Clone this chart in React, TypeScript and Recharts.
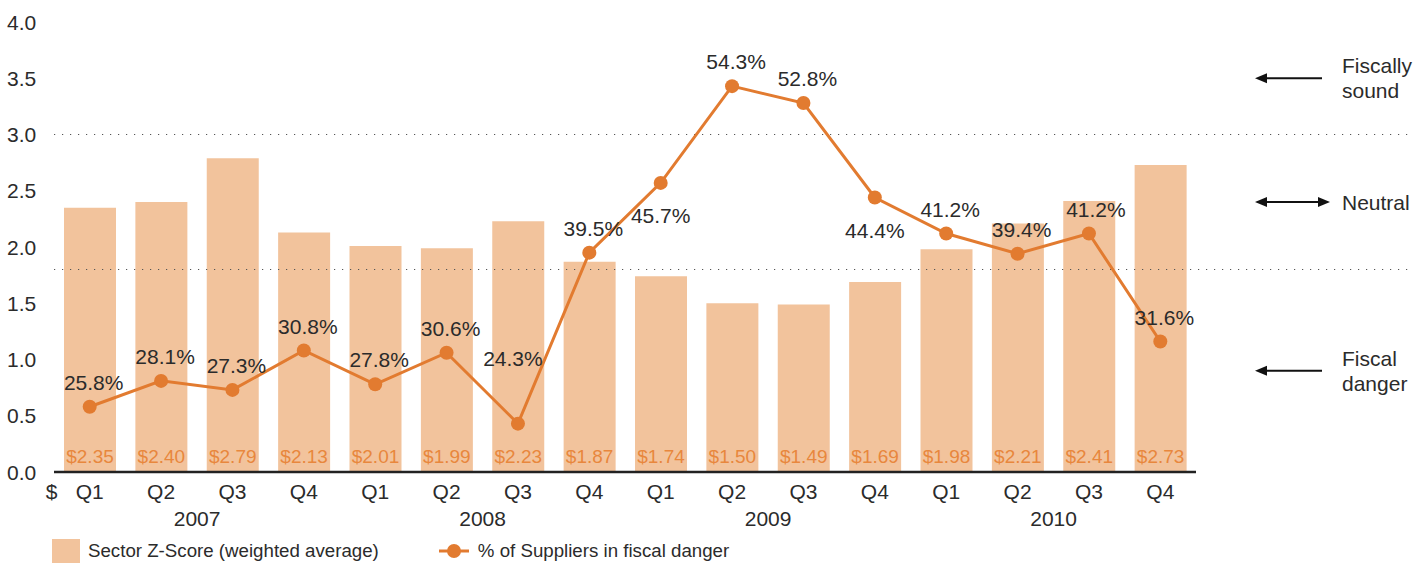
import {
  Bar,
  ComposedChart,
  LabelList,
  Line,
  ReferenceLine,
  XAxis,
  YAxis,
} from "recharts";

const quarters = ["Q1", "Q2", "Q3", "Q4", "Q1", "Q2", "Q3", "Q4", "Q1", "Q2", "Q3", "Q4", "Q1", "Q2", "Q3", "Q4"];
const years = ["2007", "2007", "2007", "2007", "2008", "2008", "2008", "2008", "2009", "2009", "2009", "2009", "2010", "2010", "2010", "2010"];
const zScores = [2.35, 2.4, 2.79, 2.13, 2.01, 1.99, 2.23, 1.87, 1.74, 1.5, 1.49, 1.69, 1.98, 2.21, 2.41, 2.73];
const pctInDanger = [25.8, 28.1, 27.3, 30.8, 27.8, 30.6, 24.3, 39.5, 45.7, 54.3, 52.8, 44.4, 41.2, 39.4, 41.2, 31.6];
const yTicks = [0, 0.5, 1, 1.5, 2, 2.5, 3, 3.5, 4];

const zoneBounds = [3.0, 1.8];
const zones = [
  { y: 3.5, lines: ["Fiscally", "sound"], both: false },
  { y: 2.4, lines: ["Neutral"], both: true },
  { y: 0.9, lines: ["Fiscal", "danger"], both: false },
];

const data = quarters.map((q, i) => ({
  key: `${years[i]} ${q}`,
  quarter: q,
  year: years[i],
  z: zScores[i],
  pct: pctInDanger[i],
}));

const FONT = '"Liberation Sans", Arial, Helvetica, sans-serif';
const TEXT = "#2b2b2b";
const BAR = "#f2c39c";
const ORANGE = "#e27b30";
const BAR_TEXT = "#e8873d";
const FS = 21;

// label placement for the % labels: [dx, dy of baseline]
const pctLabelPos: Record<number, [number, number]> = {
  6: [-5, -58],
  8: [0, 40],
  11: [0, 40],
  14: [7, -17],
};

function YTick({ y, payload }: any) {
  return (
    <text x={7} y={y} dy={7.5} fill={TEXT} fontSize={FS} fontFamily={FONT}>
      {payload.value.toFixed(1)}
    </text>
  );
}

function XTick({ x, y, index }: any) {
  const d = data[index];
  return (
    <g>
      {index === 0 && (
        <text x={x - 38} y={y + 18.5} fill={TEXT} fontSize={FS} fontFamily={FONT} textAnchor="middle">
          $
        </text>
      )}
      <text x={x} y={y + 18.5} fill={TEXT} fontSize={FS} fontFamily={FONT} textAnchor="middle">
        {d.quarter}
      </text>
      {d.quarter === "Q2" && (
        <text x={x + 36} y={y + 45.5} fill={TEXT} fontSize={FS} fontFamily={FONT} textAnchor="middle">
          {d.year}
        </text>
      )}
    </g>
  );
}

function BarValue({ x, y, width, height, value }: any) {
  return (
    <text
      x={x + width / 2}
      y={y + height - 9}
      fill={BAR_TEXT}
      fontSize={19}
      fontFamily={FONT}
      textAnchor="middle"
    >
      ${value.toFixed(2)}
    </text>
  );
}

function PctValue({ x, y, value, index }: any) {
  const [dx, dy] = pctLabelPos[index] ?? [4, -17];
  return (
    <text x={x + dx} y={y + dy} fill={TEXT} fontSize={FS} fontFamily={FONT} textAnchor="middle">
      {value.toFixed(1)}%
    </text>
  );
}

function DottedBound({ x1, y1, x2 }: any) {
  return (
    <line
      x1={x1}
      y1={y1}
      x2={x2 + 214}
      y2={y1}
      stroke="#555"
      strokeWidth={1.2}
      strokeDasharray="1.2 6.8"
    />
  );
}

function zoneShape(lines: string[], both: boolean) {
  return ({ x2, y1 }: any) => {
    const a = x2 + 59;
    const b = both ? x2 + 134 : x2 + 126;
    const tx = x2 + 146;
    const top = y1 - ((lines.length - 1) * 25) / 2;
    return (
      <g>
        <line x1={a + 8} y1={y1} x2={both ? b - 8 : b} y2={y1} stroke="#111" strokeWidth={2} />
        <polygon points={`${a},${y1} ${a + 12},${y1 - 5} ${a + 12},${y1 + 5}`} fill="#111" />
        {both && <polygon points={`${b},${y1} ${b - 12},${y1 - 5} ${b - 12},${y1 + 5}`} fill="#111" />}
        {lines.map((t, i) => (
          <text key={t} x={tx} y={top + i * 25} dy={7.5} fill={TEXT} fontSize={FS} fontFamily={FONT}>
            {t}
          </text>
        ))}
      </g>
    );
  };
}

export default function App() {
  return (
    <div style={{ position: "absolute", left: 0, top: 0, width: 1427, height: 563, background: "#fff" }}>
      <ComposedChart
        width={1427}
        height={563}
        data={data}
        margin={{ top: 22, right: 231, left: 0, bottom: 0 }}
      >
        <XAxis
          dataKey="key"
          height={91}
          tickLine={false}
          axisLine={{ stroke: "#222", strokeWidth: 2.5 }}
          tick={<XTick />}
          interval={0}
        />
        <YAxis
          yAxisId="z"
          width={54}
          domain={[0, 4]}
          ticks={yTicks}
          axisLine={false}
          tickLine={false}
          tick={<YTick />}
        />
        <YAxis yAxisId="pct" orientation="right" domain={[20, 60]} hide />
        {zoneBounds.map((v) => (
          <ReferenceLine key={v} yAxisId="z" y={v} shape={<DottedBound />} />
        ))}
        {zones.map((z) => (
          <ReferenceLine key={z.y} yAxisId="z" y={z.y} shape={zoneShape(z.lines, z.both)} />
        ))}
        <Bar yAxisId="z" dataKey="z" fill={BAR} barSize={52} isAnimationActive={false}>
          <LabelList dataKey="z" content={<BarValue />} />
        </Bar>
        <Line
          yAxisId="pct"
          dataKey="pct"
          stroke={ORANGE}
          strokeWidth={3}
          dot={{ r: 7, fill: ORANGE, stroke: ORANGE, strokeWidth: 0 }}
          activeDot={false}
          isAnimationActive={false}
        >
          <LabelList dataKey="pct" content={<PctValue />} />
        </Line>
      </ComposedChart>
      <div
        style={{
          position: "absolute",
          left: 52,
          top: 539,
          display: "flex",
          alignItems: "center",
          fontFamily: FONT,
          fontSize: 18.7,
          color: TEXT,
          whiteSpace: "nowrap",
        }}
      >
        <span style={{ width: 28, height: 24, background: BAR, display: "inline-block" }} />
        <span style={{ marginLeft: 8 }}>Sector Z-Score (weighted average)</span>
        <svg width={30} height={24} style={{ marginLeft: 60 }}>
          <line x1={0} y1={12} x2={30} y2={12} stroke={ORANGE} strokeWidth={3} />
          <circle cx={15} cy={12} r={7} fill={ORANGE} />
        </svg>
        <span style={{ marginLeft: 9 }}>% of Suppliers in fiscal danger</span>
      </div>
    </div>
  );
}
